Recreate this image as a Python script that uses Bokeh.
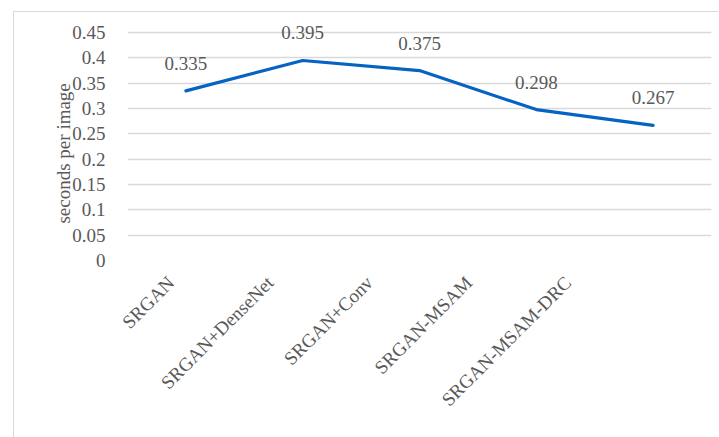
from bokeh.plotting import figure
from bokeh.models import ColumnDataSource, FixedTicker, LabelSet, Range1d, LinearAxis
from bokeh.embed import file_html
from bokeh.resources import INLINE

methods = ["SRGAN", "SRGAN+DenseNet", "SRGAN+Conv", "SRGAN-MSAM", "SRGAN-MSAM-DRC"]
seconds = [0.335, 0.395, 0.375, 0.298, 0.267]
labels = ["0.335", "0.395", "0.375", "0.298", "0.267"]
y_ticks = [0, 0.05, 0.1, 0.15, 0.2, 0.25, 0.3, 0.35, 0.4, 0.45]
y_tick_labels = {0: "0", 0.05: "0.05", 0.1: "0.1", 0.15: "0.15", 0.2: "0.2",
                 0.25: "0.25", 0.3: "0.3", 0.35: "0.35", 0.4: "0.4", 0.45: "0.45"}

FONT = "Liberation Serif"
TXT = "#595959"

# category slots: one unit each, point in the middle of its slot
pos = [i + 0.5 for i in range(len(methods))]
src = ColumnDataSource(dict(x=pos, y=seconds, lab=labels))

p = figure(x_range=Range1d(0, len(methods)), y_range=Range1d(0, 0.47), width=705, height=426,
           output_backend="svg", toolbar_location=None,
           min_border_left=113, min_border_right=8, min_border_top=10, min_border_bottom=178)
p.margin = (11, 0, 0, 13)
p.styles = {"border-left": "1px solid #d9d9d9", "border-top": "1px solid #d9d9d9"}

p.line("x", "y", source=src, line_color="#0563c1", line_width=3.2, line_join="round", line_cap="round")

ls = LabelSet(x="x", y="y", text="lab", source=src, text_align="center",
              text_baseline="alphabetic", y_offset=21, text_font=FONT,
              text_font_size="19px", text_color=TXT)
p.add_layout(ls)

p.outline_line_color = None
p.xgrid.grid_line_color = None
p.ygrid.grid_line_color = "#d9d9d9"
p.ygrid.grid_line_width = 1.5
p.ygrid.ticker = FixedTicker(ticks=y_ticks)

p.yaxis.ticker = FixedTicker(ticks=y_ticks)
p.yaxis.major_label_overrides = y_tick_labels
p.yaxis.axis_line_color = None
p.yaxis.major_tick_line_color = None
p.yaxis.minor_tick_line_color = None
p.yaxis.major_label_standoff = 16
p.yaxis.major_label_text_font = FONT
p.yaxis.major_label_text_font_size = "19px"
p.yaxis.major_label_text_color = TXT
p.yaxis.axis_label = "seconds per image" + "\u00a0" * 5
p.yaxis.axis_label_text_font = FONT
p.yaxis.axis_label_text_font_size = "19px"
p.yaxis.axis_label_text_font_style = "normal"
p.yaxis.axis_label_text_color = TXT
p.yaxis.axis_label_standoff = -5

# main x axis hidden; category labels drawn on an extra axis with Excel's own spacing
p.xaxis.visible = False
p.extra_x_ranges = {"lab": Range1d(0.062, 5.946)}
lab_axis = LinearAxis(x_range_name="lab")
lab_axis.ticker = FixedTicker(ticks=pos)
lab_axis.major_label_overrides = {pos[i]: methods[i] for i in range(len(methods))}
lab_axis.axis_line_color = None
lab_axis.major_tick_line_color = None
lab_axis.minor_tick_line_color = None
lab_axis.major_label_orientation = 0.7854
lab_axis.major_label_standoff = 13
lab_axis.major_label_text_font = FONT
lab_axis.major_label_text_font_size = "19px"
lab_axis.major_label_text_color = TXT
p.add_layout(lab_axis, "below")

p.background_fill_color = "white"
p.border_fill_color = "white"

open("out.html", "w").write(file_html(p, INLINE))
